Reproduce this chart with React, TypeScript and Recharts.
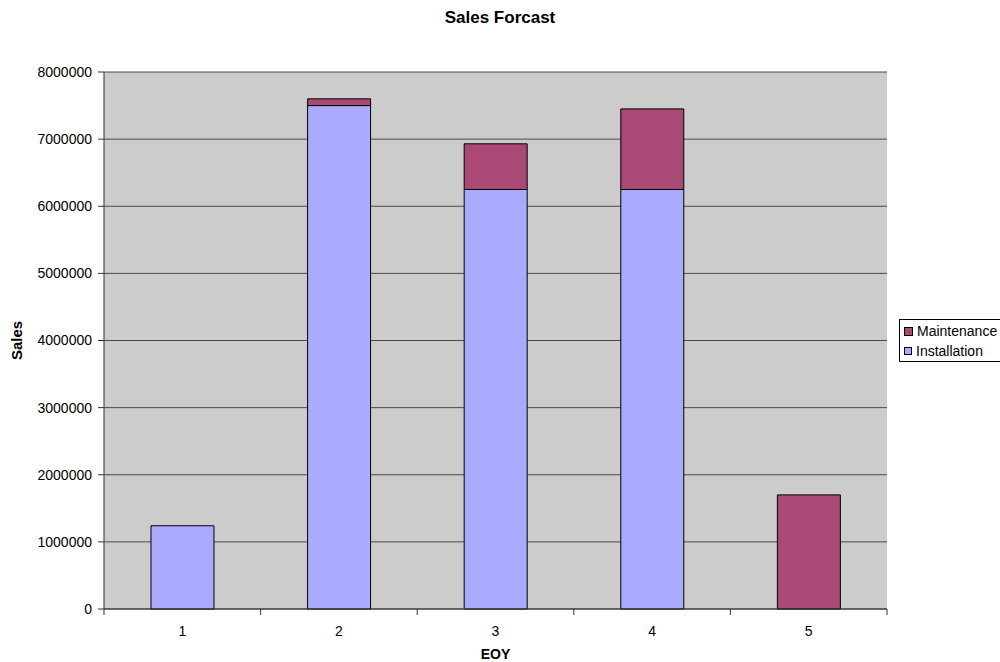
import { Bar, BarChart, CartesianGrid, Label, XAxis, YAxis } from 'recharts';

const years = ['1', '2', '3', '4', '5'];
const installation = [1240000, 7500000, 6250000, 6250000, 0];
const maintenance = [0, 100000, 680000, 1200000, 1700000];
const salesTicks = [0, 1000000, 2000000, 3000000, 4000000, 5000000, 6000000, 7000000, 8000000];

const data = years.map((eoy, i) => ({
  eoy,
  Installation: installation[i],
  Maintenance: maintenance[i],
}));

const FONT = 'Arial, "Liberation Sans", sans-serif';
const INSTALL_COLOR = '#AAAAFF';
const MAINT_COLOR = '#AA4876';

// category ticks sit on the band edges, labels in the middle
function EoyTick(props: any) {
  const { x, y, payload, index } = props;
  const half = payload?.offset ?? 78;
  return (
    <g>
      <line x1={x - half} y1={y - 8} x2={x - half} y2={y - 2} stroke="#333" />
      {index === years.length - 1 && (
        <line x1={x + half} y1={y - 8} x2={x + half} y2={y - 2} stroke="#333" />
      )}
      <text x={x} y={y + 19} textAnchor="middle" fontSize={14} fill="#000" fontFamily={FONT}>
        {payload.value}
      </text>
    </g>
  );
}

function LegendBox() {
  const items = [
    { name: 'Maintenance', color: MAINT_COLOR, size: 9 },
    { name: 'Installation', color: INSTALL_COLOR, size: 8 },
  ];
  return (
    <div
      style={{
        position: 'absolute',
        left: 899,
        top: 319,
        border: '1px solid #000',
        background: '#fff',
        width: 110,
        height: 43,
        boxSizing: 'border-box',
        padding: '1px 0 0 4px',
        fontFamily: FONT,
        fontSize: 14,
        lineHeight: '20px',
      }}
    >
      {items.map((it) => (
        <div key={it.name} style={{ display: 'flex', alignItems: 'center', gap: 4 }}>
          <span
            style={{
              width: it.size,
              height: it.size,
              background: it.color,
              border: '1px solid #000',
              boxSizing: 'border-box',
            }}
          />
          {it.name}
        </div>
      ))}
    </div>
  );
}

export default function App() {
  return (
    <div
      style={{
        position: 'absolute',
        left: 0,
        top: 0,
        width: 1000,
        height: 662,
        background: '#fff',
        overflow: 'hidden',
      }}
    >
      <div
        style={{
          position: 'absolute',
          top: 8,
          left: 0,
          width: 1000,
          textAlign: 'center',
          fontFamily: FONT,
          fontWeight: 'bold',
          fontSize: 17,
        }}
      >
        Sales Forcast
      </div>
      <BarChart
        width={1000}
        height={662}
        data={data}
        margin={{ top: 72, right: 113, bottom: 0, left: 0 }}
        barCategoryGap="30%"
      >
        <CartesianGrid vertical={false} stroke="#4a4a4a" fill="#CCCCCC" fillOpacity={1} />
        <XAxis
          dataKey="eoy"
          height={53}
          stroke="#333"
          tickLine={false}
          tick={<EoyTick />}
          interval={0}
        >
          <Label
            content={({ viewBox }: any) => (
              <text
                x={viewBox.x + viewBox.width / 2}
                y={viewBox.y + 50}
                textAnchor="middle"
                fontFamily={FONT}
                fontWeight="bold"
                fontSize={14}
              >
                EOY
              </text>
            )}
          />
        </XAxis>
        <YAxis
          width={104}
          domain={[0, 8000000]}
          ticks={salesTicks}
          interval={0}
          stroke="#333"
          tickSize={6}
          tickMargin={6}
          tick={{ fill: '#000', fontSize: 14, fontFamily: FONT }}
        >
          <Label
            content={({ viewBox }: any) => {
              const cy = viewBox.y + viewBox.height / 2;
              return (
                <text
                  x={22}
                  y={cy}
                  transform={`rotate(-90 22 ${cy})`}
                  textAnchor="middle"
                  fontFamily={FONT}
                  fontWeight="bold"
                  fontSize={15}
                >
                  Sales
                </text>
              );
            }}
          />
        </YAxis>
        <YAxis
          yAxisId="edge"
          orientation="right"
          width={0}
          tick={false}
          tickLine={false}
          stroke="#999"
          domain={[0, 8000000]}
        />
        <Bar dataKey="Installation" stackId="s" fill={INSTALL_COLOR} stroke="#000" isAnimationActive={false} />
        <Bar dataKey="Maintenance" stackId="s" fill={MAINT_COLOR} stroke="#000" isAnimationActive={false} />
      </BarChart>
      <LegendBox />
    </div>
  );
}
